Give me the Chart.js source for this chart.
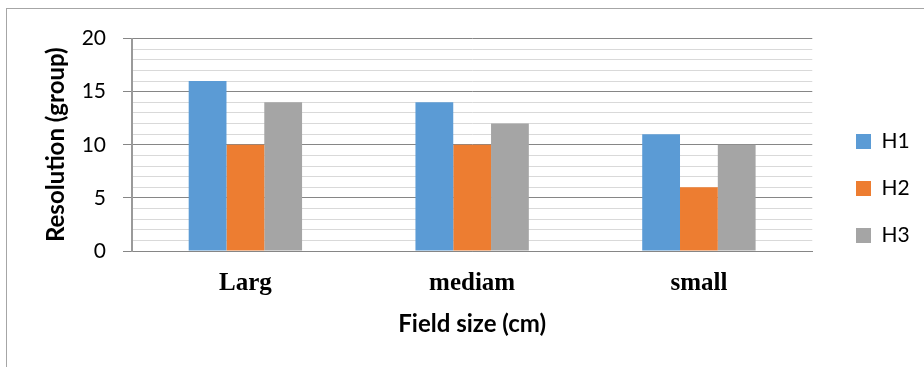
<!DOCTYPE html>
<html>
<head>
<meta charset="utf-8">
<script src="https://cdn.jsdelivr.net/npm/chart.js@4"></script>
<style>
  html, body { margin: 0; padding: 0; background: #fff; }
  .frame {
    position: absolute; left: 6px; top: 8px; right: 0; bottom: 0;
    border-left: 1px solid #a6a6a6; border-top: 1px solid #a6a6a6;
  }
  .box { position: relative; width: 917px; height: 358px; }
</style>
</head>
<body>
<div class="frame">
  <div class="box"><canvas id="chart"></canvas></div>
</div>
<script>
// data
const categories = ['Larg', 'mediam', 'small'];
const h1 = [16, 14, 11];
const h2 = [10, 10, 6];
const h3 = [14, 12, 10];
const seriesNames = ['H1', 'H2', 'H3'];
const seriesColors = ['#5b9bd5', '#ed7d31', '#a5a5a5'];

const MAJOR = '#868686';
const MINOR = '#d9d9d9';

// put the legend where the original has it (right side, lower than the plot middle)
const legendSpot = {
  id: 'legendSpot',
  afterLayout(chart) {
    const lg = chart.legend;
    const pad = lg.options.labels.padding;
    const dx = 849 - pad - lg.left;
    const dy = 122 - pad - lg.top;
    lg.left += dx; lg.right += dx;
    lg.top += dy; lg.bottom += dy;
  }
};

const ctx = document.getElementById('chart').getContext('2d');
new Chart(ctx, {
  type: 'bar',
  data: {
    labels: categories,
    datasets: [h1, h2, h3].map((vals, i) => ({
      label: seriesNames[i],
      data: vals,
      backgroundColor: seriesColors[i],
      borderWidth: 0,
      categoryPercentage: 0.5,
      barPercentage: 1.0,
    })),
  },
  options: {
    responsive: true,
    maintainAspectRatio: false,
    animation: false,
    layout: { padding: { left: 0, top: 29, right: 22, bottom: 0 } },
    plugins: {
      tooltip: { enabled: false },
      legend: {
        position: 'right',
        align: 'start',
        labels: {
          boxWidth: 15,
          boxHeight: 15,
          padding: 26,
          color: '#000',
          font: { family: 'Lato', size: 21 },
        },
      },
    },
    scales: {
      x: {
        grid: { display: false },
        border: { display: true, color: MAJOR, width: 1 },
        ticks: {
          color: '#000',
          padding: 10,
          font: { family: '"Liberation Serif"', size: 25, weight: 'bold' },
        },
        title: {
          display: true,
          text: 'Field size (cm)',
          color: '#000',
          font: { family: 'Lato', size: 24, weight: 'bold' },
          padding: { top: 0, bottom: 28 },
        },
        afterFit(scale) { scale.height = 116; },
      },
      y: {
        min: 0,
        max: 20,
        grid: {
          color: c => (c.tick && c.tick.value % 5 === 0 ? MAJOR : MINOR),
          tickColor: c => (c.tick && c.tick.value % 5 === 0 ? MAJOR : 'rgba(0,0,0,0)'),
          tickLength: 9,
          lineWidth: 1,
        },
        border: { display: true, color: '#9a9a9a', width: 2 },
        ticks: {
          stepSize: 1,
          autoSkip: false,
          padding: 17,
          color: '#000',
          font: { family: 'Lato', size: 21 },
          callback: v => (v % 5 === 0 ? v : ''),
        },
        title: {
          display: true,
          text: 'Resolution (group)',
          color: '#000',
          font: { family: 'Lato', size: 24, weight: 'bold' },
          padding: 35,
        },
        afterFit(scale) { scale.width = 125; },
      },
    },
  },
  plugins: [legendSpot],
});
</script>
</body>
</html>
